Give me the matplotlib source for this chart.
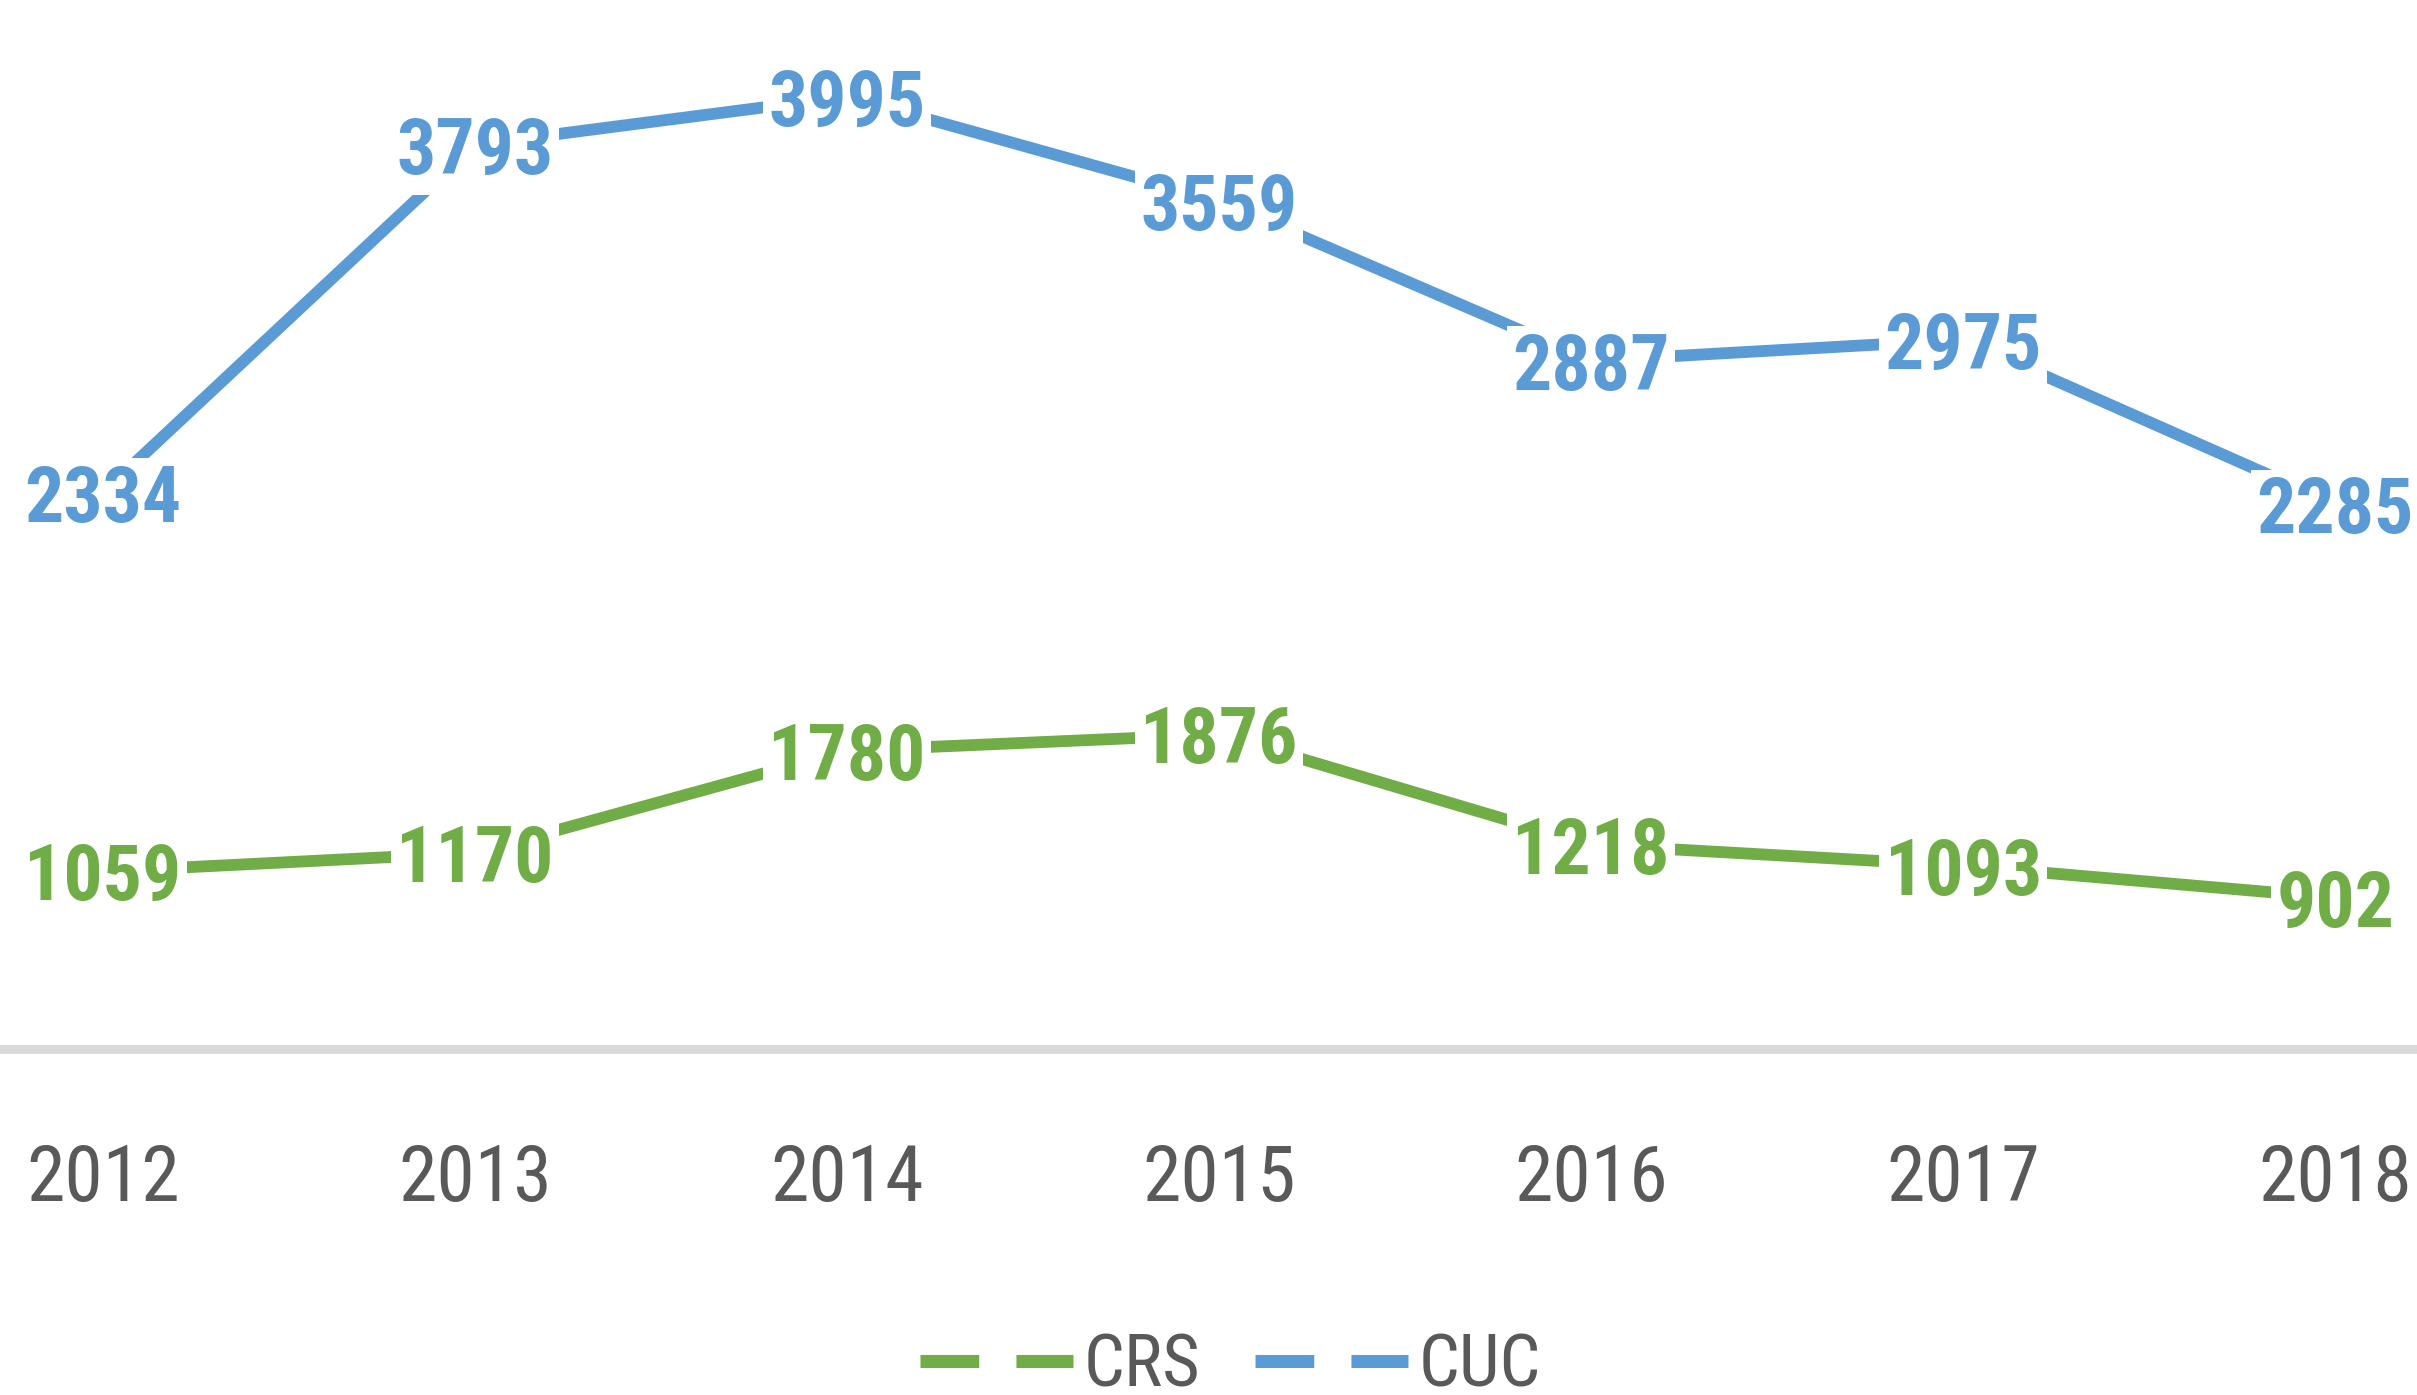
import matplotlib
matplotlib.use("Agg")
import matplotlib.pyplot as plt
from matplotlib import font_manager
from matplotlib.font_manager import FontProperties
from matplotlib.lines import Line2D

# datos
anios = ["2012", "2013", "2014", "2015", "2016", "2017", "2018"]
crs = [1059, 1170, 1780, 1876, 1218, 1093, 902]
cuc = [2334, 3793, 3995, 3559, 2887, 2975, 2285]

verde = "#70AD47"
azul = "#5B9BD5"
gris = "#595959"


# buscar una fuente estrecha (parecida a Calibri)
def buscar(negrita):
    preferidas = ["liberationsansnarrow", "robotocondensed", "dejavusanscondensed", "opensanscondensed"]
    archivos = font_manager.findSystemFonts()
    for pref in preferidas:
        for f in archivos:
            base = f.lower().replace("-", "").replace("_", "").split("/")[-1]
            if not base.startswith(pref):
                continue
            es_bold = "bold" in base and "italic" not in base and "oblique" not in base
            es_reg = ("regular" in base or base.startswith(pref + ".")) and "italic" not in base
            if negrita and es_bold:
                return FontProperties(fname=f)
            if not negrita and es_reg:
                return FontProperties(fname=f)
    return FontProperties(family="DejaVu Sans", weight="bold" if negrita else "normal", stretch="condensed")


f_reg = buscar(False)
f_bold = buscar(True)

fig = plt.figure(figsize=(24.17, 13.95), dpi=100)
ax = fig.add_axes([0, 0.248, 1, 0.752])
ax2 = ax.twinx()

x = list(range(len(anios)))

# CRS en eje principal
ax.plot(x, crs, color=verde, lw=8.5, solid_capstyle="round", zorder=2)
for xi, v in zip(x, crs):
    ax.text(xi, v, str(v), color=verde, fontproperties=f_bold, fontsize=56,
            ha="center", va="center_baseline", zorder=3,
            bbox=dict(facecolor="white", edgecolor="none", pad=4))

# CUC en eje secundario
ax2.plot(x, cuc, color=azul, lw=8.5, solid_capstyle="round", zorder=2)
for xi, v in zip(x, cuc):
    ax2.text(xi, v, str(v), color=azul, fontproperties=f_bold, fontsize=56,
             ha="center", va="center_baseline", zorder=3,
             bbox=dict(facecolor="white", edgecolor="none", pad=4))

ax.set_xlim(-0.277, 6.22)
ax.set_ylim(0, 6255)
ax2.set_ylim(0, 4400)

for a in (ax, ax2):
    for s in ["top", "left", "right"]:
        a.spines[s].set_visible(False)
    a.set_yticks([])
ax2.spines["bottom"].set_visible(False)
ax.spines["bottom"].set_color("#D9D9D9")
ax.spines["bottom"].set_linewidth(6.3)

ax.set_xticks(x)
ax.set_xticklabels(anios, color=gris)
for t in ax.get_xticklabels():
    t.set_fontproperties(f_reg)
    t.set_fontsize(56)
ax.tick_params(axis="x", length=0, pad=67)

# leyenda
manejadores = [
    Line2D([0], [0], color=verde, lw=9.4, linestyle=(0, (4.5, 2.85)), dash_capstyle="butt"),
    Line2D([0], [0], color=azul, lw=9.4, linestyle=(0, (4.5, 2.85)), dash_capstyle="butt"),
]
prop_ley = f_reg.copy()
prop_ley.set_size(52)
fig.legend(manejadores, ["CRS", "CUC"], loc="center", bbox_to_anchor=(0.509, 0.020),
           ncol=2, frameon=False, prop=prop_ley, labelcolor=gris,
           handlelength=2.12, handletextpad=0.15, columnspacing=0.75)

fig.savefig("out.png", dpi=100)
